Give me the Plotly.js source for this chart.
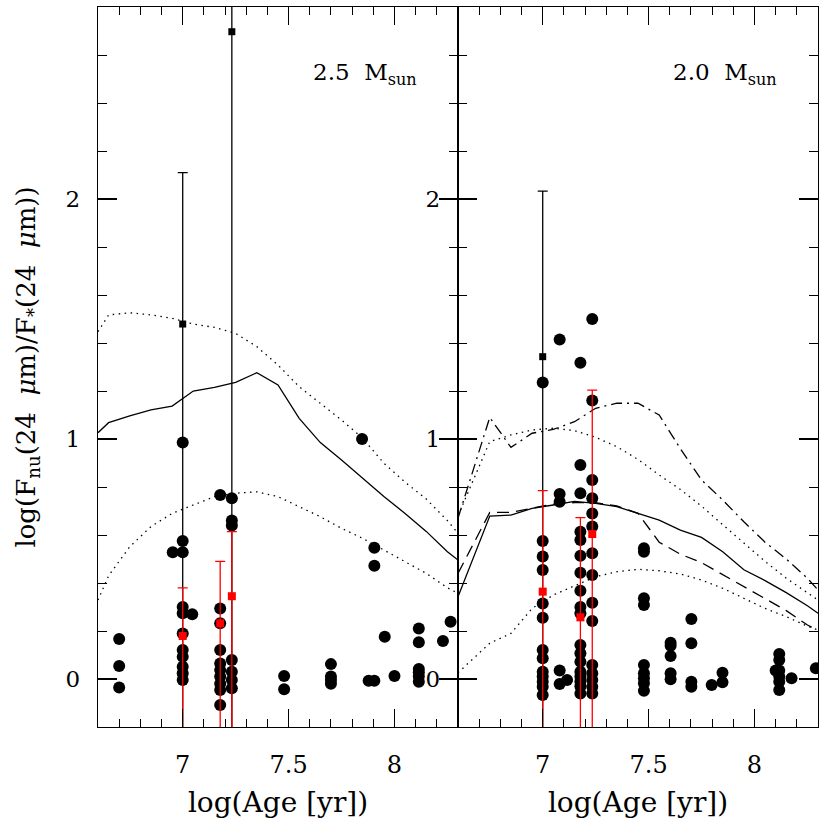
<!DOCTYPE html>
<html>
<head>
<meta charset="utf-8">
<script src="https://cdn.plot.ly/plotly-3.0.1.min.js"></script>
<style>
  html, body { margin: 0; padding: 0; background: #fff; }
  #chart { width: 830px; height: 826px; }
</style>
</head>
<body>
<div id="chart"></div>
<script>
// 24 micron excess vs. age, compared with 2.5 and 2.0 Msun models

// --- 2.5 Msun panel ---
const ageDots25 = [6.70, 6.70, 6.70, 6.953,
  7.0, 7.0, 7.0, 7.0, 7.0, 7.0, 7.0, 7.0, 7.0, 7.0, 7.0, 7.045,
  7.177, 7.177, 7.177, 7.177, 7.177, 7.177, 7.177, 7.177, 7.177, 7.177,
  7.232, 7.232, 7.232, 7.232, 7.232, 7.232, 7.232,
  7.479, 7.479, 7.70, 7.70, 7.70, 7.70, 7.847, 7.878, 7.905, 7.905, 7.905,
  7.954, 8.0, 8.115, 8.115, 8.115, 8.115, 8.115, 8.115, 8.229, 8.265];
const fluxDots25 = [0.167, 0.054, -0.035, 0.528,
  0.985, 0.575, 0.528, 0.30, 0.274, 0.19, 0.121, 0.093, 0.051, 0.024, -0.004, 0.27,
  0.767, 0.294, 0.232, 0.121, 0.065, 0.037, 0.01, -0.02, -0.046, -0.108,
  0.753, 0.66, 0.64, 0.079, 0.03, -0.004, -0.039,
  0.0125, -0.043, 0.062, 0.01, -0.004, -0.02, 1.0, -0.007, -0.007, 0.547, 0.472,
  0.176, 0.0125, 0.21, 0.153, 0.042, 0.028, 0.01, -0.011, 0.158, 0.239];

const ageBlack25 = [7.0, 7.232];
const fluxBlack25 = [1.479, 2.697];
const capBlack25 = [2.11, 3.0];

const ageRed25 = [7.0, 7.177, 7.232];
const fluxRed25 = [0.179, 0.232, 0.345];
const capRed25 = [0.38, 0.49, 0.614];

const modelAge25 = [6.6, 6.65, 6.75, 6.85, 6.95, 7.05, 7.15, 7.25, 7.35, 7.45,
  7.55, 7.65, 7.75, 7.85, 7.95, 8.05, 8.15, 8.25, 8.3];
const solid25 = [1.026, 1.068, 1.096, 1.121, 1.137, 1.20, 1.215, 1.236, 1.276, 1.225,
  1.086, 0.985, 0.912, 0.836, 0.76, 0.69, 0.615, 0.53, 0.496];
const dotHi25 = [1.447, 1.517, 1.526, 1.517, 1.503, 1.479, 1.465, 1.44, 1.385, 1.308,
  1.218, 1.149, 1.079, 1.003, 0.899, 0.82, 0.75, 0.66, 0.607];
const dotLo25 = [0.329, 0.43, 0.551, 0.635, 0.69, 0.725, 0.76, 0.774, 0.78, 0.76,
  0.718, 0.676, 0.628, 0.586, 0.5375, 0.489, 0.44, 0.38, 0.357];

// --- 2.0 Msun panel ---
const ageDots20 = [
  7.0, 7.0, 7.0, 7.0, 7.0, 7.0, 7.0, 7.0, 7.0, 7.0, 7.0, 7.0, 7.0,
  7.08, 7.08, 7.08, 7.08, 7.08, 7.115,
  7.178, 7.178, 7.178, 7.178, 7.178, 7.178, 7.178, 7.178, 7.178, 7.178, 7.178, 7.178, 7.178, 7.178, 7.178, 7.178, 7.178, 7.178,
  7.234, 7.234, 7.234, 7.234, 7.234, 7.234, 7.234, 7.234, 7.234, 7.234, 7.234, 7.234, 7.234, 7.234, 7.234,
  7.478, 7.478, 7.478, 7.478, 7.478, 7.478, 7.478, 7.478, 7.478,
  7.604, 7.604, 7.604, 7.604, 7.604,
  7.702, 7.702, 7.702, 7.702, 7.798, 7.849, 7.849,
  8.10, 8.117, 8.117, 8.117, 8.117, 8.117, 8.117, 8.175, 8.29];
const fluxDots20 = [
  1.235, 0.575, 0.51, 0.454, 0.315, 0.255, 0.121, 0.086, 0.03, 0.01, -0.011, -0.032, -0.067,
  1.415, 0.771, 0.739, 0.035, -0.021, -0.004,
  1.318, 0.892, 0.774, 0.614, 0.579, 0.514, 0.443, 0.368, 0.30, 0.274, 0.142, 0.107, 0.072, 0.03, 0.01, -0.01, -0.03, -0.06,
  1.5, 1.16, 0.829, 0.753, 0.69, 0.635, 0.524, 0.433, 0.318, 0.242, 0.058, 0.024, -0.004, -0.032, -0.06,
  0.545, 0.53, 0.336, 0.308, 0.058, 0.024, 0.003, -0.018, -0.049,
  0.151, 0.139, 0.096, 0.024, -0.001,
  0.25, 0.149, -0.011, -0.032, -0.025, 0.026, -0.014,
  0.035, 0.104, 0.079, 0.035, 0.01, -0.011, -0.046, 0.003, 0.045];

const ageBlack20 = [7.0];
const fluxBlack20 = [1.343];
const capBlack20 = [2.033];

const ageRed20 = [7.0, 7.178, 7.234];
const fluxRed20 = [0.364, 0.257, 0.604];
const capRed20 = [0.785, 0.672, 1.204];

const modelAge20 = [6.6, 6.75, 6.85, 6.95, 7.05, 7.15, 7.25, 7.35, 7.45,
  7.55, 7.65, 7.75, 7.85, 7.95, 8.05, 8.15, 8.25, 8.3];
const solid20 = [0.343, 0.679, 0.683, 0.711, 0.725, 0.74, 0.732, 0.718, 0.69,
  0.662, 0.62, 0.59, 0.53, 0.455, 0.41, 0.36, 0.305, 0.274];
const dash20 = [0.44, 0.694, 0.694, 0.711, 0.729, 0.735, 0.735, 0.721, 0.69,
  0.57, 0.52, 0.485, 0.435, 0.385, 0.336, 0.285, 0.225, 0.204];
const dashdot20 = [0.67, 1.09, 0.965, 1.024, 1.04, 1.072, 1.128, 1.149, 1.149,
  1.1, 0.96, 0.829, 0.746, 0.655, 0.57, 0.50, 0.42, 0.371];
const dotHi20 = [0.68, 0.989, 1.017, 1.0375, 1.045, 1.035, 1.007, 0.968, 0.915,
  0.85, 0.79, 0.72, 0.643, 0.565, 0.49, 0.42, 0.36, 0.329];
const dotLo20 = [0.026, 0.149, 0.19, 0.294, 0.35, 0.3875, 0.426, 0.447, 0.457,
  0.451, 0.4375, 0.4125, 0.378, 0.336, 0.294, 0.26, 0.22, 0.204];

// upper limits: lower end of the bar runs off the bottom of the plot
const FLOOR = -1;

const FONT = 'DejaVu Serif, Liberation Serif, serif';
const DOTTED = '1.5px,4.5px';
const DASHED = '12px,7px';
const DASHDOT = '11px,5px,2px,5px';

function modelLine(x, y, dash, xa, ya) {
  return {
    x: x, y: y, xaxis: xa, yaxis: ya, type: 'scatter', mode: 'lines',
    line: { color: 'black', width: 1.3, dash: dash }, hoverinfo: 'skip'
  };
}

function dots(x, y, xa, ya) {
  return {
    x: x, y: y, xaxis: xa, yaxis: ya, type: 'scatter', mode: 'markers',
    marker: { symbol: 'circle', size: 12, color: 'black' }
  };
}

function limits(x, y, cap, color, size, xa, ya) {
  return {
    x: x, y: y, xaxis: xa, yaxis: ya, type: 'scatter', mode: 'markers',
    marker: { symbol: 'square', size: size, color: color },
    error_y: {
      type: 'data', symmetric: false,
      array: cap.map((c, i) => c - y[i]),
      arrayminus: y.map(v => v - FLOOR),
      color: color, thickness: 1.3, width: 5
    }
  };
}

const traces = [
  modelLine(modelAge25, solid25, 'solid', 'x', 'y'),
  modelLine(modelAge25, dotHi25, DOTTED, 'x', 'y'),
  modelLine(modelAge25, dotLo25, DOTTED, 'x', 'y'),
  dots(ageDots25, fluxDots25, 'x', 'y'),
  limits(ageBlack25, fluxBlack25, capBlack25, 'black', 7, 'x', 'y'),
  limits(ageRed25, fluxRed25, capRed25, '#ff0000', 8, 'x', 'y'),

  modelLine(modelAge20, solid20, 'solid', 'x2', 'y2'),
  modelLine(modelAge20, dash20, DASHED, 'x2', 'y2'),
  modelLine(modelAge20, dashdot20, DASHDOT, 'x2', 'y2'),
  modelLine(modelAge20, dotHi20, DOTTED, 'x2', 'y2'),
  modelLine(modelAge20, dotLo20, DOTTED, 'x2', 'y2'),
  dots(ageDots20, fluxDots20, 'x2', 'y2'),
  limits(ageBlack20, fluxBlack20, capBlack20, 'black', 7, 'x2', 'y2'),
  limits(ageRed20, fluxRed20, capRed20, '#ff0000', 8, 'x2', 'y2')
];

const xCommon = {
  range: [6.6, 8.3], tick0: 0, dtick: 0.5,
  ticks: 'inside', ticklen: 18, tickwidth: 1.2, tickcolor: 'black',
  minor: { dtick: 0.1, tick0: 0, ticks: 'inside', ticklen: 8, tickwidth: 1, tickcolor: 'black' },
  showline: true, linecolor: 'black', linewidth: 1.3, mirror: 'allticks',
  showgrid: false, zeroline: false,
  tickfont: { family: FONT, size: 24, color: 'black' },
  ticklabelstandoff: 16,
  title: { text: 'log(Age [yr])', font: { family: FONT, size: 28, color: 'black' }, standoff: 14 }
};

const yCommon = {
  range: [-0.2, 2.8], tick0: 0, dtick: 1,
  ticks: 'inside', ticklen: 19, tickwidth: 1.2, tickcolor: 'black',
  minor: { dtick: 0.2, tick0: 0, ticks: 'inside', ticklen: 9, tickwidth: 1, tickcolor: 'black' },
  showline: true, linecolor: 'black', linewidth: 1.3, mirror: 'allticks',
  showgrid: false, zeroline: false,
  tickfont: { family: FONT, size: 23, color: 'black' },
  ticklabelstandoff: 12
};

const layout = {
  width: 830, height: 826,
  margin: { l: 98, r: 12, t: 7, b: 99 },
  paper_bgcolor: 'white', plot_bgcolor: 'white',
  showlegend: false,
  xaxis: Object.assign({}, xCommon, { domain: [0, 0.5], anchor: 'y' }),
  xaxis2: Object.assign({}, xCommon, { domain: [0.5, 1], anchor: 'y2' }),
  yaxis: Object.assign({}, yCommon, {
    anchor: 'x',
    title: {
      text: 'log(F<sub>nu</sub>(24\u00a0 <i>\u03bc</i>m)/F<sub>*</sub>(24\u00a0 <i>\u03bc</i>m))',
      font: { family: FONT, size: 26, color: 'black' }, standoff: 22
    }
  }),
  yaxis2: Object.assign({}, yCommon, { anchor: 'x2' }),
  annotations: [
    { xref: 'x', yref: 'y', x: 7.86, y: 2.52, showarrow: false,
      text: '2.5\u00a0 M<sub>sun</sub>', font: { family: FONT, size: 23, color: 'black' } },
    { xref: 'x2', yref: 'y2', x: 7.86, y: 2.52, showarrow: false,
      text: '2.0\u00a0 M<sub>sun</sub>', font: { family: FONT, size: 23, color: 'black' } }
  ]
};

Plotly.newPlot('chart', traces, layout, { staticPlot: true, responsive: false });
</script>
</body>
</html>
